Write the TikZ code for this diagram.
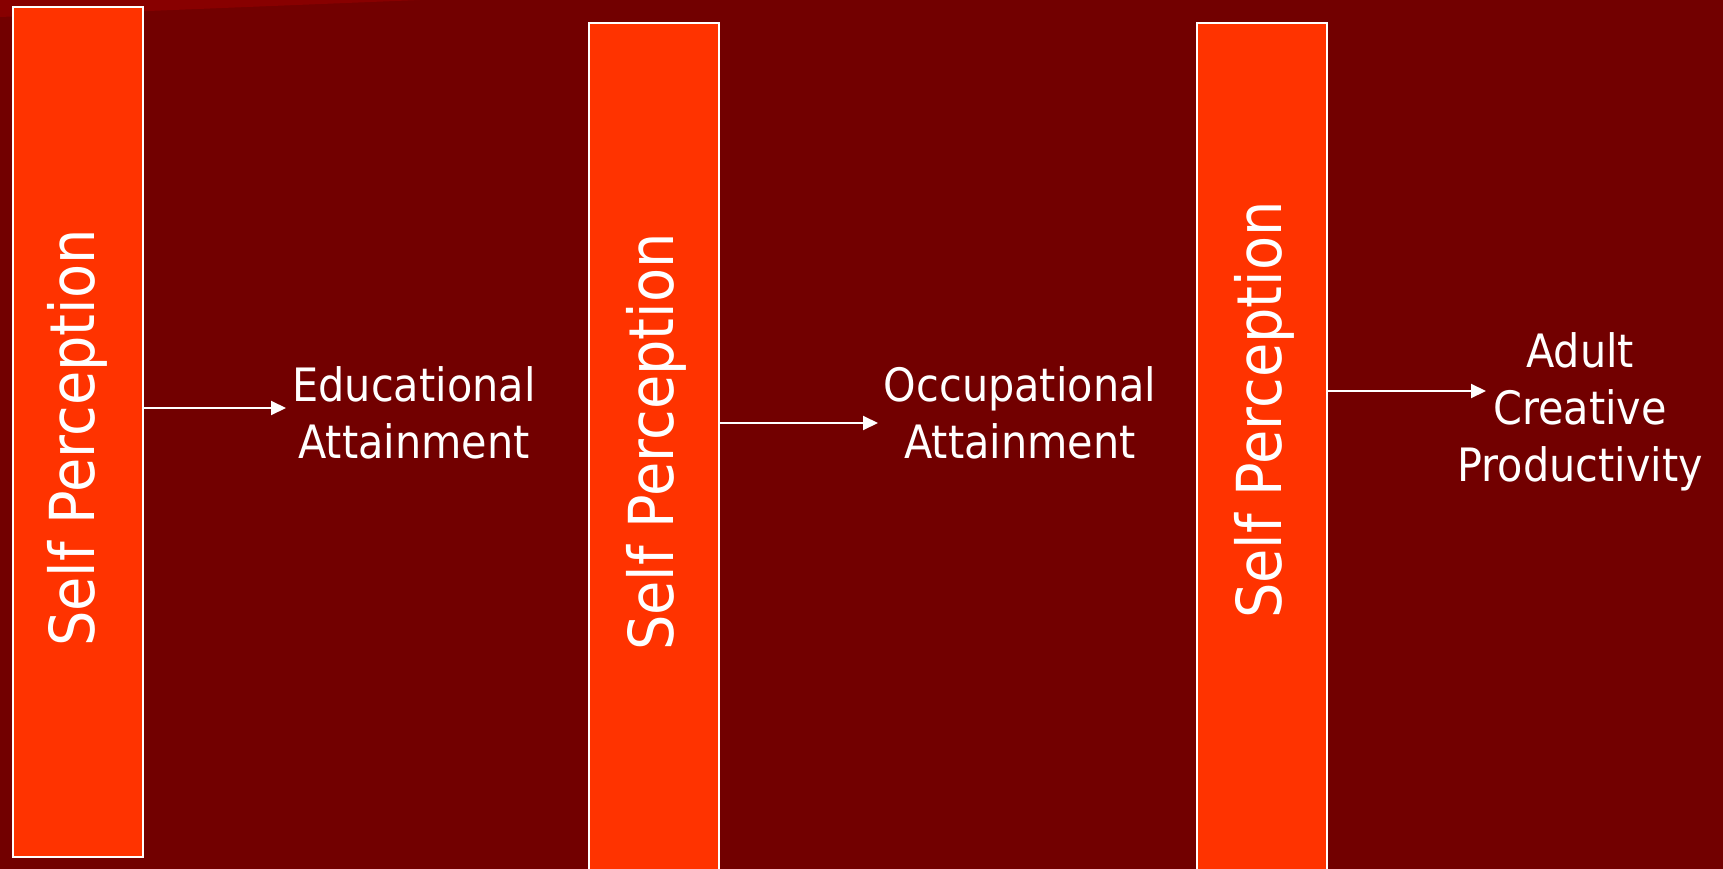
\documentclass[tikz,border=0pt]{standalone}
\usepackage{fontspec}
\setmainfont{DejaVu Sans}[FakeStretch=0.9]
\usetikzlibrary{arrows.meta}
\definecolor{bgred}{HTML}{720000}
\definecolor{wedge}{HTML}{880000}
\definecolor{boxred}{HTML}{FF3300}
\tikzset{
  colbox/.style={draw=white, line width=2.5pt, fill=boxred},
  vlabel/.style={text=white, rotate=90, font=\fontsize{62}{70}\selectfont, inner sep=0pt},
  tlabel/.style={text=white, align=center, font=\fontsize{46}{57}\selectfont, inner sep=0pt},
  arr/.style={draw=white, line width=2pt, -{Triangle[length=15pt,width=14pt]}},
}
\begin{document}
\begin{tikzpicture}[x=1pt,y=-1pt]
\useasboundingbox (0,0) rectangle (1723,869);
\clip (0,0) rectangle (1723,869);
\fill[bgred] (0,0) rectangle (1723,869);
\fill[wedge] (0,0) -- (420,0) -- (0,17) -- cycle;
% boxes
\draw[colbox] (13,7) rectangle (143,857);
\draw[colbox] (589,23) rectangle (719,880);
\draw[colbox] (1197,23) rectangle (1327,880);
\coordinate (b1e) at (143,408);
\coordinate (b2e) at (719,423);
\coordinate (b3e) at (1327,391);
% vertical labels
\node[vlabel] (s1) at (77,438) {Self Perception};
\node[vlabel] (s2) at (656,442) {Self Perception};
\node[vlabel] (s3) at (1264,410) {Self Perception};
% text labels
\node[tlabel] (edu) at (414,413) {Educational\\Attainment};
\node[tlabel] (occ) at (1020,413) {Occupational\\Attainment};
\node[tlabel] (acp) at (1580,412) {Adult\\Creative\\Productivity};
% arrows
\coordinate (a1) at (286,408);
\coordinate (a2) at (878,423);
\coordinate (a3) at (1486,391);
\draw[arr] (b1e) -- (a1);
\draw[arr] (b2e) -- (a2);
\draw[arr] (b3e) -- (a3);
\end{tikzpicture}
\end{document}
